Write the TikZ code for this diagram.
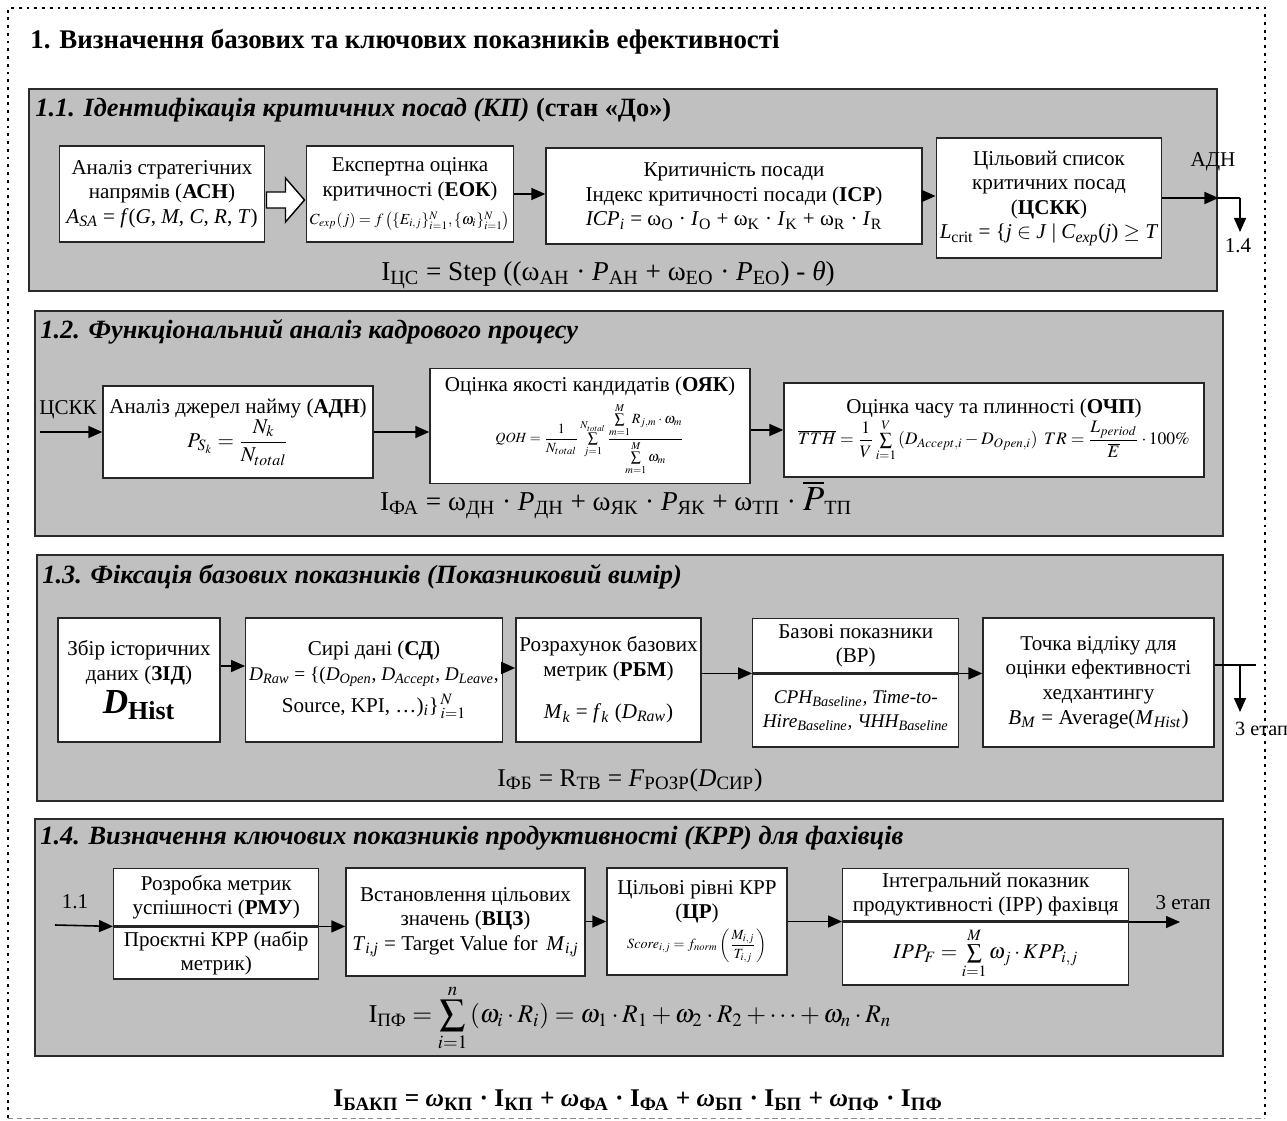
\documentclass[tikz,border=0pt]{standalone}
\usepackage{amsmath}
\usepackage{mathptmx}
\usepackage{fontspec}
\setmainfont{Liberation Serif}
\usetikzlibrary{arrows.meta, positioning, calc}
\definecolor{secGrey}{HTML}{C0C0C0}
\definecolor{secLine}{HTML}{2B2B2B}
\newcommand{\sbs}[1]{\textsubscript{#1}}

\begin{document}
\begin{tikzpicture}[x=0.02cm, y=-0.02cm,
  sz/.style 2 args={minimum width=#1*0.02cm, minimum height=#2*0.02cm},
  sec/.style={draw=secLine, line width=1.4pt, fill=secGrey, inner sep=0pt},
  blk/.style={draw=black!85, line width=0.8pt, fill=white, align=center, inner sep=2pt,
              font=\fontsize{12}{14}\selectfont},
  hdr/.style={anchor=west, inner sep=0pt, font=\fontsize{15}{17}\selectfont\bfseries\itshape},
  frm/.style={inner sep=0pt, font=\fontsize{15.5}{18}\selectfont},
  lbl/.style={inner sep=1pt, font=\fontsize{12}{14}\selectfont},
  ar/.style={-{Triangle[length=2.8mm, width=2.4mm]}, line width=0.9pt},
]
\useasboundingbox (0,0) rectangle (1287,1121);
% outer frame
\draw[line width=1.6pt, dash pattern=on 1.6pt off 2.8pt] (8,1118) -- (8,8) -- (1265,8) -- (1265,1118);
\draw[black!45, line width=0.5pt, dash pattern=on 3pt off 2pt] (8,1118) -- (1265,1118);
\node[anchor=west, inner sep=0pt, font=\fontsize{15.3}{18}\selectfont\bfseries] (ttl) at (30,42)
  {1. Визначення базових та ключових показників ефективності};

% 1.1
\node[sec, sz={1188}{202}, anchor=north west] (s11) at (28,88) {};
\node[hdr] (h11) at (35,110) {1.1. Ідентифікація критичних посад (КП) \upshape(стан «До»)};
\node[blk, sz={205}{96}] (asn) at (162,194)
  {Аналіз стратегічних\\напрямів (\textbf{АСН})\\\textit{A}\sbs{\textit{SA}} = \textit{f}(\textit{G}, \textit{M}, \textit{C}, \textit{R}, \textit{T})};
\node[blk, sz={204}{96}] (eok) at (410,194)
  {Експертна оцінка\\критичності (\textbf{ЕОК})\\[2pt]{\fontsize{8.8}{11}\selectfont $C_{exp}(j)=f\left(\{E_{i,j}\}_{i=1}^{N},\{\omega_i\}_{i=1}^{N}\right)$}};
\node[blk, sz={376}{96}] (icp) at (734,196)
  {Критичність посади\\Індекс критичності посади (\textbf{ICP})\\\textit{ICP}\sbs{\textit{i}} = ω\sbs{O} · \textit{I}\sbs{O} + ω\sbs{K} · \textit{I}\sbs{K} + ω\sbs{R} · \textit{I}\sbs{R}};
\node[blk, sz={182}{120}] (cskk) at (1049,198)
  {Цільовий список\\критичних посад\\(\textbf{ЦСКК})\\\textit{L}\sbs{crit} = \{\textit{j} $\in$ \textit{J} | \textit{C}\sbs{\textit{exp}}(\textit{j}) $\geq$ \textit{T}};
\coordinate (ha) at ($(asn.east)!0.5!(eok.west)+(0,6)$);
\draw[shift={(ha)}, line width=0.8pt, fill=white]
  (-19,-8) -- (0,-8) -- (0,-22) -- (19,0) -- (0,22) -- (0,8) -- (-19,8) -- cycle;
\draw[ar] (eok.east) -- (eok.east -| icp.west);
\draw[ar] (icp.east) -- (icp.east -| cskk.west);
\coordinate (t11) at (1240,198);
\coordinate (d11) at (1240,232);
\draw[ar] (cskk.east) -- (cskk.east -| s11.east);
\draw[line width=0.9pt] (cskk.east -| s11.east) -- (t11);
\draw[ar] (t11) -- (d11);
\node[lbl] (l11a) at (1213,162) {АДН};
\node[lbl] (l11b) at (1238,246) {1.4};
\node[frm] (f11) at (608,275)
  {I\sbs{ЦС} = Step ((ω\sbs{АН} · \textit{P}\sbs{АН} + ω\sbs{ЕО} · \textit{P}\sbs{ЕО}) - \textit{θ})};

% 1.2
\node[sec, sz={1188}{225}, anchor=north west] (s12) at (34,310) {};
\node[hdr] (h12) at (40,332) {1.2. Функціональний аналіз кадрового процесу};
\node[blk, sz={270}{92}] (adn) at (238,432)
  {Аналіз джерел найму (\textbf{АДН})\\ $P_{S_k}=\dfrac{N_k}{N_{total}}$};
\node[blk, sz={320}{115}] (oyak) at (590,426)
  {Оцінка якості кандидатів (\textbf{ОЯК})\\[3pt] {\footnotesize $QOH=\dfrac{1}{N_{total}}\sum\limits_{j=1}^{N_{total}}\dfrac{\sum\limits_{m=1}^{M}R_{j,m}\cdot\omega_m}{\sum\limits_{m=1}^{M}\omega_m}$}};
\node[blk, sz={420}{94}] (ochp) at (994,430)
  {Оцінка часу та плинності (\textbf{ОЧП})\\ {\fontsize{10}{12}\selectfont $\overline{TTH}=\dfrac{1}{V}\sum\limits_{i=1}^{V}\left(D_{Accept,i}-D_{Open,i}\right)\ TR=\dfrac{L_{period}}{\overline{E}}\cdot 100\%$}};
\coordinate (in12) at (40,432);
\node[lbl] (l12) at (68,410) {ЦСКК};
\draw[ar] (in12) -- (in12 -| adn.west);
\draw[ar] (adn.east) -- (adn.east -| oyak.west);
\draw[ar] (oyak.east |- ochp.west) -- (ochp.west);
\node[frm] (f12) at (616,500)
  {I\sbs{ФА} = ω\sbs{ДН} · \textit{P}\sbs{ДН} + ω\sbs{ЯК} · \textit{P}\sbs{ЯК} + ω\sbs{ТП} · {\fontsize{20}{20}\selectfont$\overline{P}$}\sbs{ТП}};

% 1.3
\node[sec, sz={1186}{246}, anchor=north west] (s13) at (36,554) {};
\node[hdr] (h13) at (42,577) {1.3. Фіксація базових показників (Показниковий вимір)};
\node[blk, sz={162}{124}] (zid) at (139,680)
  {Збір історичних\\даних (\textbf{ЗІД})\\[2pt]{\fontsize{20}{22}\selectfont\bfseries\itshape D\upshape\sbs{Hist}}};
\node[blk, sz={256}{124}] (sd) at (374,680)
  {Сирі дані (\textbf{СД})\\{\fontsize{11}{13}\selectfont\textit{D}\sbs{\textit{Raw}} = \{(\textit{D}\sbs{\textit{Open}}, \textit{D}\sbs{\textit{Accept}}, \textit{D}\sbs{\textit{Leave}},}\\[4pt]Source, KPI, …)\sbs{\textit{i}}\}$^{\,N}_{\,i=1}$};
\node[blk, sz={177}{124}] (rbm) at (608.5,680)
  {Розрахунок базових\\метрик (\textbf{РБМ})\\[10pt]\textit{M}\sbs{\textit{k}} = \textit{f}\sbs{\textit{k}} (\textit{D}\sbs{\textit{Raw}})};
\node[blk, sz={206}{54}, anchor=north west] (bpT) at (752,618) {Базові показники\\(BP)};
\node[blk, sz={206}{73}, below=0pt of bpT, font=\fontsize{11}{14}\selectfont\itshape] (bpB)
  {CPH\sbs{Baseline}, Time-to-\\Hire\sbs{Baseline}, ЧНН\sbs{Baseline}};
\node[blk, sz={231}{129}] (tch) at (1098.5,682.5)
  {Точка відліку для\\оцінки ефективності\\хедхантингу\\\textit{B}\sbs{\textit{M}} = Average(\textit{M}\sbs{\textit{Hist}})};
\draw[ar] ([yshift=0.28cm]zid.east) -- ([yshift=0.28cm]zid.east -| sd.west);
\draw[ar] ([yshift=0.24cm]sd.east) -- ([yshift=0.24cm]sd.east -| rbm.west);
\draw[ar] (rbm.east |- bpT.south) -- (bpT.south west);
\draw[ar] (bpT.south east) -- (bpT.south east -| tch.west);
\coordinate (t13) at (1240,665);
\coordinate (e13) at (1256,665);
\coordinate (d13) at (1240,712);
\draw[line width=0.9pt] (tch.east |- t13) -- (e13);
\draw[ar] (t13) -- (d13);
\node[lbl, anchor=west, font=\fontsize{11.5}{13}\selectfont] (l13) at (1233,729) {3 етап};
\node[frm, font=\fontsize{14.5}{17}\selectfont] (f13) at (630,780) {I\sbs{ФБ} = R\sbs{ТВ} = \textit{F}\sbs{РОЗР}(\textit{D}\sbs{СИР})};

% 1.4
\node[sec, sz={1188}{237}, anchor=north west] (s14) at (34,818) {};
\node[hdr] (h14) at (40,838) {1.4. Визначення ключових показників продуктивності (КРР) для фахівців};
\node[blk, sz={205}{57}, anchor=north west] (rmuT) at (113,868) {Розробка метрик\\успішності (\textbf{РМУ})};
\node[blk, sz={205}{52}, below=0pt of rmuT] (rmuB) {Проєктні КРР (набір\\метрик)};
\node[blk, sz={239}{108}] (vcz) at (465.5,922)
  {Встановлення цільових\\значень (\textbf{ВЦЗ})\\\textit{T}\sbs{\textit{i,j}} = Target Value for \,\textit{M}\sbs{\textit{i,j}}};
\node[blk, sz={180}{107}] (cr) at (697,921.5)
  {Цільові рівні КРР\\(\textbf{ЦР})\\[2pt]{\footnotesize $Score_{i,j}=f_{norm}\left(\dfrac{M_{i,j}}{T_{i,j}}\right)$}};
\node[blk, sz={286}{52}, anchor=north west] (ippT) at (842,868) {Інтегральний показник\\продуктивності (IPP) фахівця};
\node[blk, sz={286}{63}, below=0pt of ippT] (ippB) {$IPP_F=\sum\limits_{i=1}^{M}\omega_j\cdot KPP_{i,j}$};
\coordinate (in14) at (55,925);
\node[lbl] (l14a) at (75,902) {1.1};
\draw[ar] (in14) -- (rmuT.south west);
\draw[ar] (rmuT.south east) -- (rmuT.south east -| vcz.west);
\draw[ar] (vcz.east |- cr.west) -- (cr.west);
\draw[ar] (cr.east) -- (cr.east -| ippT.west);
\coordinate (o14) at (1180,922);
\draw[ar] (ippT.south east |- o14) -- (o14);
\node[lbl] (l14b) at (1183,903) {3 етап};
\node[frm, font=\fontsize{14.5}{17}\selectfont] (f14) at (630,1018)
  {$\displaystyle \mathrm{I}_{\text{ПФ}}=\sum_{i=1}^{n}\left(\omega_i\cdot R_i\right)=\omega_1\cdot R_1+\omega_2\cdot R_2+\cdots+\omega_n\cdot R_n$};

\node[frm, font=\fontsize{14.5}{17}\selectfont\bfseries] (fb) at (638,1100)
  {I\sbs{БАКП} = \textit{ω}\sbs{КП} · I\sbs{КП} + \textit{ω}\sbs{ФА} · I\sbs{ФА} + \textit{ω}\sbs{БП} · I\sbs{БП} + \textit{ω}\sbs{ПФ} · I\sbs{ПФ}};
\end{tikzpicture}
\end{document}
